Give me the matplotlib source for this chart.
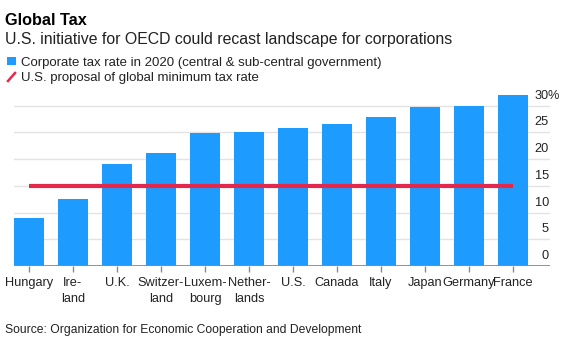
import matplotlib
matplotlib.use("Agg")
import matplotlib.pyplot as plt
import matplotlib.transforms as mtransforms
from matplotlib.lines import Line2D
from matplotlib.patches import Rectangle

plt.rcParams['font.family'] = ['Liberation Sans', 'DejaVu Sans']

# data
countries = ["Hungary", "Ire-\nland", "U.K.", "Switzer-\nland", "Luxem-\nbourg",
             "Nether-\nlands", "U.S.", "Canada", "Italy", "Japan", "Germany", "France"]
tax_rate = [9.0, 12.5, 19.0, 21.15, 24.94, 25.0, 25.77, 26.47, 27.81, 29.74, 29.9, 32.02]
us_minimum = 15
y_ticks = [0, 5, 10, 15, 20, 25, 30]

W, H = 578, 352
BLUE = '#1e9bff'
RED = '#e4284c'

fig = plt.figure(figsize=(W / 100, H / 100), dpi=100)
fig.patch.set_facecolor('white')

def px(x, y):
    return x / W, 1 - y / H

# axes: left 14px, right 550px, baseline at y=266, top at 0-33 scale
ax_left, ax_right, ax_bottom = 14, 550, 266
ymax = 33
px_per_unit = 5.35
ax_top = ax_bottom - ymax * px_per_unit
ax = fig.add_axes([ax_left / W, 1 - ax_bottom / H, (ax_right - ax_left) / W,
                   (ax_bottom - ax_top) / H])

xs = list(range(len(countries)))
bar_w = 30 / 44
ax.bar(xs, tax_rate, width=bar_w, color=BLUE, zorder=2)
ax.hlines(us_minimum, xs[0], xs[-1], color=RED, lw=3.0, zorder=3, capstyle='butt')

ax.set_xlim(-bar_w / 2, (ax_right - 29) / 44)
ax.set_ylim(0, ymax)

for t in y_ticks[1:]:
    ax.axhline(t, color='#e3e3e3', lw=1.0, zorder=1)
ax.axhline(0, color='#8a8a8a', lw=1.3, zorder=4)

for s in ax.spines.values():
    s.set_visible(False)
ax.set_yticks([])
ax.set_xticks(xs)
ax.set_xticklabels(countries, fontsize=9.2, color='#222222', linespacing=1.45)
ax.tick_params(axis='x', length=4, width=1, color='#8a8a8a', pad=4)

# right-side value labels sitting above each gridline
trans = mtransforms.blended_transform_factory(ax.transAxes, ax.transData)
trans_lbl = mtransforms.offset_copy(trans, fig=fig, x=0, y=7, units='dots')
trans_pct = mtransforms.offset_copy(trans, fig=fig, x=-1.5, y=7, units='dots')
xr = (549 - ax_left) / (ax_right - ax_left)
for t in y_ticks:
    ax.text(xr, t, str(t), transform=trans_lbl, ha='right', va='baseline',
            fontsize=9.2, color='#222222')
ax.text(xr, y_ticks[-1], '%', transform=trans_pct, ha='left', va='baseline',
        fontsize=9.2, color='#222222')

# titles
fig.text(*px(5, 25), "Global Tax", fontsize=11.7, fontweight='bold', color='black',
         va='baseline', ha='left')
fig.text(*px(5, 44), "U.S. initiative for OECD could recast landscape for corporations",
         fontsize=11.4, color='#222222', va='baseline', ha='left')

# legend
fig.add_artist(Rectangle(px(7, 65), 9 / W, 8 / H, transform=fig.transFigure,
                         color=BLUE, lw=0))
fig.text(*px(21, 66), "Corporate tax rate in 2020 (central & sub-central government)",
         fontsize=9.5, color='#222222', va='baseline', ha='left')
x0, y0 = px(8, 81)
x1, y1 = px(15, 73)
fig.add_artist(Line2D([x0, x1], [y0, y1], transform=fig.transFigure, color=RED, lw=1.8))
fig.text(*px(21, 81), "U.S. proposal of global minimum tax rate",
         fontsize=9.5, color='#222222', va='baseline', ha='left')

fig.text(*px(5, 333), "Source: Organization for Economic Cooperation and Development",
         fontsize=8.7, color='#222222', va='baseline', ha='left')

fig.savefig('out.png', dpi=100, facecolor='white')
